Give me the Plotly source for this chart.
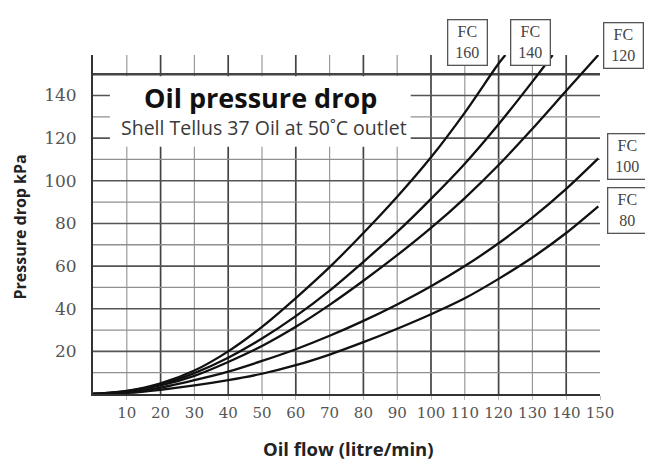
import plotly.graph_objects as go

# ---------------- data ----------------
flow_fc160 = [0, 10, 20, 30, 40, 50, 60, 70, 80, 90, 100, 110, 120, 122]
dp_fc160 = [0, 1.5, 5, 11, 20, 31.5, 45, 59.5, 75.5, 92.5, 111, 132, 155, 159]

flow_fc140 = [0, 10, 20, 30, 40, 50, 60, 70, 80, 90, 100, 110, 120, 130, 136]
dp_fc140 = [0, 1.3, 4.5, 9.8, 17, 26, 36.5, 48.5, 62, 76, 91.5, 108, 126.5, 146.5, 159]

flow_fc120 = [0, 10, 20, 30, 40, 50, 60, 70, 80, 90, 100, 110, 120, 130, 140, 149.5]
dp_fc120 = [0, 1.2, 4, 8.5, 15, 22.5, 31.5, 41.8, 53.1, 65.1, 77.9, 91.9, 107.4, 124.4, 142.2, 159]

flow_fc100 = [0, 10, 20, 30, 40, 50, 60, 70, 80, 90, 100, 110, 120, 130, 140, 149.5]
dp_fc100 = [0, 0.8, 3, 6.5, 10.5, 15.5, 21, 27.3, 34.3, 42, 50.5, 60, 70.7, 82.7, 96.2, 110.5]

flow_fc80 = [0, 10, 20, 30, 40, 50, 60, 70, 80, 90, 100, 110, 120, 130, 140, 149.5]
dp_fc80 = [0, 0.5, 2, 4, 6.5, 9.5, 13.5, 18.5, 24.3, 30.6, 37.4, 44.9, 54, 64, 75.5, 88]

series_names = ["FC<br>160", "FC<br>140", "FC<br>120", "FC<br>100", "FC<br>80"]

x_tick_vals = [10, 20, 30, 40, 50, 60, 70, 80, 90, 100, 110, 120, 130, 140, 150]
x_tick_text = ["10", "20", "30", "40", "50", "60", "70", "80", "90", "100",
               "110", "120", "130", "140", "150"]
y_tick_vals = [20, 40, 60, 80, 100, 120, 140]
y_tick_text = ["20", "40", "60", "80", "100", "120", "140"]

flow_grid = [10, 20, 30, 40, 50, 60, 70, 80, 90, 100, 110, 120, 130, 140]
pressure_grid = [10, 20, 30, 40, 50, 60, 70, 80, 90, 100, 110, 120, 130, 140]
pressure_top = 150
flow_max = 150

title_text = "Oil pressure drop"
subtitle_text = "Shell Tellus 37 Oil at 50˚C outlet"
x_title = "Oil flow (litre/min)"
y_title = "Pressure drop kPa"

# ---------------- figure ----------------
fig = go.Figure()

curves = [(flow_fc160, dp_fc160), (flow_fc140, dp_fc140), (flow_fc120, dp_fc120),
          (flow_fc100, dp_fc100), (flow_fc80, dp_fc80)]
for (fx, fy), name in zip(curves, series_names):
    fig.add_trace(go.Scatter(
        x=fx, y=fy, mode="lines", name=name.replace("<br>", " "),
        line=dict(color="#111111", width=2.3, shape="spline", smoothing=0.8),
        showlegend=False, hoverinfo="skip"))

shapes = []
# vertical grid lines
for v in flow_grid:
    major = (v % 20 == 0)
    shapes.append(dict(type="line", xref="x", yref="paper", x0=v, x1=v, y0=0, y1=1,
                       line=dict(color="#444444" if major else "#9a9a9a",
                                 width=1.7 if major else 1.2),
                       layer="below"))
# horizontal grid lines
for p in pressure_grid:
    major = (p % 20 == 0)
    shapes.append(dict(type="line", xref="x", yref="y", x0=0, x1=flow_max, y0=p, y1=p,
                       line=dict(color="#555555" if major else "#8f8f8f",
                                 width=1.6 if major else 1.3),
                       layer="below"))
# heavy top line
shapes.append(dict(type="line", xref="x", yref="y", x0=0, x1=flow_max,
                   y0=pressure_top, y1=pressure_top,
                   line=dict(color="#444444", width=2.4), layer="below"))
# white panel behind the title
shapes.append(dict(type="rect", xref="x", yref="y", x0=5, x1=94, y0=116, y1=149,
                   fillcolor="white", line=dict(width=0), layer="below"))

annotations = [
    dict(text="<b>" + title_text + "</b>", xref="x", yref="y", x=49.7, y=139.3,
         showarrow=False, font=dict(family="Open Sans", size=27, color="#111111")),
    dict(text=subtitle_text, xref="x", yref="y", x=50.6, y=124.8,
         showarrow=False, font=dict(family="Open Sans", size=19.5, color="#3a3a3a")),
    dict(text="<b>" + y_title + "</b>", xref="paper", yref="paper", x=-0.144, y=0.494,
         textangle=-90, showarrow=False, xanchor="center", yanchor="middle",
         font=dict(family="Open Sans", size=16, color="#222222")),
    dict(text="<b>" + x_title + "</b>", xref="paper", yref="paper", x=0.503, y=-0.162,
         showarrow=False, xanchor="center", yanchor="middle",
         font=dict(family="Open Sans", size=18.5, color="#222222")),
]

label_pos = [(0.738, 1.037), (0.862, 1.037), (1.046, 1.029), (1.055, 0.702), (1.055, 0.540)]
for name, (px, py) in zip(series_names, label_pos):
    annotations.append(dict(
        text=name, xref="paper", yref="paper", x=px, y=py, showarrow=False,
        xanchor="center", yanchor="middle", align="center",
        width=34, height=40, borderpad=2, bordercolor="#555555", borderwidth=1.3,
        bgcolor="white",
        font=dict(family="Liberation Serif", size=16, color="#444444")))

fig.update_layout(
    width=645, height=465,
    margin=dict(l=85, r=53, t=47, b=79, pad=0),
    paper_bgcolor="white", plot_bgcolor="white",
    shapes=shapes, annotations=annotations,
    xaxis=dict(range=[0, flow_max], tickmode="array", tickvals=x_tick_vals,
               ticktext=x_tick_text, showgrid=False, zeroline=False,
               showline=True, linecolor="#333333", linewidth=2,
               ticks="outside", ticklen=4, tickcolor="#bbbbbb",
               tickfont=dict(family="DejaVu Serif", size=15, color="#555555")),
    yaxis=dict(range=[0, 159], tickmode="array", tickvals=y_tick_vals,
               ticktext=y_tick_text, showgrid=False, zeroline=False,
               showline=True, linecolor="#333333", linewidth=2,
               ticks="outside", ticklen=11, tickcolor="rgba(0,0,0,0)",
               tickfont=dict(family="DejaVu Serif", size=17, color="#555555")),
)

fig.write_html("out.html")
